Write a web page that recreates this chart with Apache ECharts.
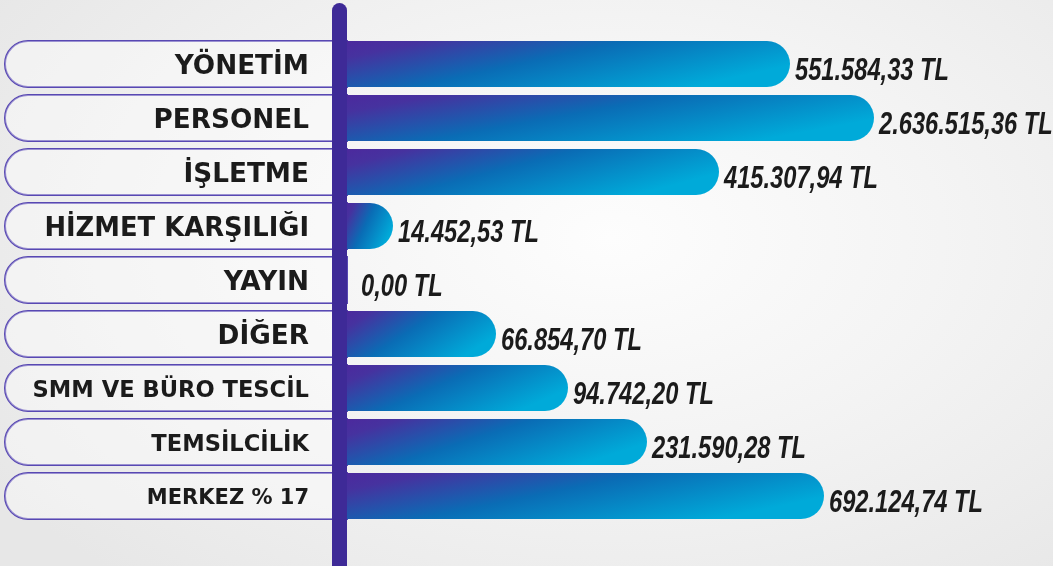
<!DOCTYPE html>
<html>
<head>
<meta charset="utf-8">
<script src="https://cdn.jsdelivr.net/npm/echarts@6/dist/echarts.min.js"></script>
<style>
  html, body { margin: 0; padding: 0; }
  body {
    width: 1053px; height: 566px; overflow: hidden;
    background: radial-gradient(ellipse 70% 80% at 58% 42%, #fdfdfd 0%, #f4f4f4 45%, #e7e7e7 100%);
  }
  #chart { width: 1053px; height: 566px; }
</style>
</head>
<body>
<div id="chart"></div>
<script>
const categories = [
  "YÖNETİM", "PERSONEL", "İŞLETME", "HİZMET KARŞILIĞI", "YAYIN",
  "DİĞER", "SMM VE BÜRO TESCİL", "TEMSİLCİLİK", "MERKEZ % 17",
];
// amounts printed next to the bars
const amounts = [
  "551.584,33 TL", "2.636.515,36 TL", "415.307,94 TL", "14.452,53 TL", "0,00 TL",
  "66.854,70 TL", "94.742,20 TL", "231.590,28 TL", "692.124,74 TL",
];
// bar lengths as drawn in the infographic (not proportional to the amounts)
const barLengths = [443, 527, 372, 46, 0, 149, 221, 300, 477];
const axisMax = 700;

// label text sizes (style keys for rich text)
const labelStyle = {
  "HİZMET KARŞILIĞI": "h",
  "SMM VE BÜRO TESCİL": "s",
  "TEMSİLCİLİK": "s",
  "MERKEZ % 17": "m",
};

const gridLeft = 347;
const gridRight = 1053 - gridLeft - 700;
const barH = 46;

const stops = [
  { offset: 0, color: "#4c299d" },
  { offset: 0.14, color: "#46329f" },
  { offset: 0.5, color: "#0a6cb5" },
  { offset: 1, color: "#00aad9" },
];

// gradient whose bands run diagonally across the bar box
function barGradient(w, h) {
  const al = 0.8 / w, be = 0.38 / h;
  const n = al * al + be * be;
  return new echarts.graphic.LinearGradient(0, 0, al / n / w, be / n / h, stops);
}

const chart = echarts.init(document.getElementById("chart"));

const gridW = 1053 - gridLeft - gridRight;
const seriesData = barLengths.map((v) => ({
  value: v,
  itemStyle: v > 0 ? { color: barGradient((v / axisMax) * gridW, barH) } : {},
}));

// condensed italic amount labels (no condensed font installed, so squeeze horizontally)
function renderAmount(params, api) {
  const p = api.coord([api.value(0), api.value(1)]);
  return {
    type: "text",
    x: p[0] + (api.value(0) > 0 ? 5 : 14),
    y: p[1] + 7,
    scaleX: 0.74,
    style: {
      text: amounts[params.dataIndex],
      fontFamily: "Liberation Sans",
      fontStyle: "italic",
      fontWeight: "bold",
      fontSize: 32,
      fill: "#1b1b1b",
      align: "left",
      verticalAlign: "middle",
    },
  };
}

const txt = (size) => ({
  fontFamily: "DejaVu Sans", fontWeight: "bold", fontSize: size, color: "#1b1b1b", lineHeight: 40,
});

chart.setOption({
  animation: false,
  grid: { left: gridLeft, right: gridRight, top: 37, bottom: 43 },
  xAxis: { type: "value", min: 0, max: axisMax, show: false },
  yAxis: {
    type: "category",
    inverse: true,
    data: categories,
    axisLine: { show: false },
    axisTick: { show: false },
    axisLabel: {
      margin: 0,
      width: 304,
      height: 40,
      padding: [6, 38, 0, 0],
      align: "right",
      verticalAlign: "middle",
      backgroundColor: "rgba(255,255,255,0.4)",
      borderColor: "#5848b2",
      borderWidth: 1,
      borderRadius: [23, 0, 0, 23],
      formatter: (v) => `{${labelStyle[v] || "b"}|${v}}`,
      rich: { b: txt(26.3), h: txt(25.8), s: txt(22.6), m: txt(21) },
    },
  },
  series: [
    {
      type: "bar",
      data: seriesData,
      barWidth: barH,
      itemStyle: { borderRadius: [0, 23, 23, 0] },
    },
    {
      type: "custom",
      data: barLengths.map((v, i) => [v, i]),
      encode: { x: 0, y: 1 },
      renderItem: renderAmount,
      z: 5,
    },
  ],
  graphic: [
    {
      type: "rect",
      z: 100,
      shape: { x: 332, y: 3, width: 15, height: 620, r: [7.5, 7.5, 0, 0] },
      style: { fill: "#3e2a97" },
    },
  ],
});

window.addEventListener("resize", () => chart.resize());
</script>
</body>
</html>
